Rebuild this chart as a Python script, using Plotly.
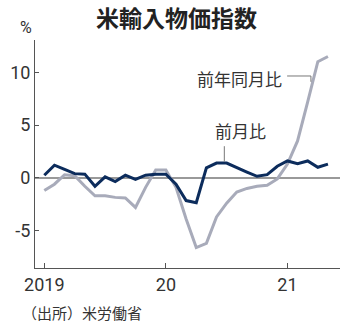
import pandas as pd
import plotly.graph_objects as go

# Monthly observations, Jan 2019 - May 2021
months = pd.period_range("2019-01", "2021-05", freq="M")

# Month-over-month change (%)
mom = [0.25, 1.2, 0.8, 0.4, 0.35, -0.8, 0.1, -0.35, 0.25, -0.15, 0.25, 0.35,
       0.35, -0.6, -2.15, -2.35, 0.95, 1.4, 1.4, 0.95, 0.55, 0.15, 0.3, 1.1,
       1.6, 1.35, 1.6, 1.0, 1.3]

# Year-over-year change (%)
yoy = [-1.2, -0.6, 0.3, 0.2, -0.8, -1.7, -1.7, -1.85, -1.9, -2.8, -0.9, 0.75,
       0.75, -0.9, -3.9, -6.6, -6.2, -3.7, -2.4, -1.35, -1.0, -0.8, -0.7, -0.1,
       1.3, 3.5, 7.2, 11.0, 11.5]

y_ticks = [10, 5, 0, -5]
y_tick_text = ["10", "5", "0", "-5"]
x_tick_text = ["2019", "20", "21"]

x = list(range(len(months)))
x_ticks = [i for i, m in enumerate(months) if m.month == 1]

NAVY = "#0c2c5c"
GREY = "#a8abba"
TEXT = "#333333"
CJK = "Noto Sans CJK JP"
DIGITS = "Liberation Sans Narrow, Roboto, Noto Sans CJK JP"

fig = go.Figure()
fig.add_trace(go.Scatter(x=x, y=yoy, mode="lines", name="前年同月比",
                         line=dict(color=GREY, width=3)))
fig.add_trace(go.Scatter(x=x, y=mom, mode="lines", name="前月比",
                         line=dict(color=NAVY, width=3)))

# Leader lines for the series labels
leader = dict(color="#777777", width=1)
fig.add_shape(type="line", x0=23.97, x1=26.32, y0=9.65, y1=9.65, line=leader)
fig.add_shape(type="line", x0=26.32, x1=26.32, y0=9.65, y1=9.1, line=leader)
fig.add_shape(type="line", x0=17.77, x1=17.77, y0=3.0, y1=1.55, line=leader)

annotations = [
    dict(x=19.3, y=9.46, xref="x", yref="y", text="前年同月比", showarrow=False,
         xanchor="center", yanchor="middle",
         font=dict(family=CJK, size=17, color=TEXT)),
    dict(x=19.4, y=4.5, xref="x", yref="y", text="前月比", showarrow=False,
         xanchor="center", yanchor="middle",
         font=dict(family=CJK, size=17, color=TEXT)),
    dict(x=0.464, y=1.099, xref="paper", yref="paper", text="<b>米輸入物価指数</b>",
         xanchor="center", yanchor="middle", showarrow=False,
         font=dict(family=CJK, size=23, color="#222222")),
    dict(x=-0.029, y=1.057, xref="paper", yref="paper", text="%",
         xanchor="center", yanchor="middle", showarrow=False,
         font=dict(family=DIGITS, size=16, color=TEXT)),
    dict(x=-0.05, y=-0.197, xref="paper", yref="paper", text="（出所）米労働省",
         xanchor="left", yanchor="middle", showarrow=False,
         font=dict(family=CJK, size=15, color=TEXT)),
]

fig.update_layout(
    width=350, height=329,
    margin=dict(l=32, r=10, t=40, b=61),
    paper_bgcolor="white", plot_bgcolor="white",
    showlegend=False,
    annotations=annotations,
    xaxis=dict(range=[-0.92, 29.19], tickvals=x_ticks, ticktext=x_tick_text,
               showgrid=False, zeroline=False, showline=True, linecolor="#555555",
               linewidth=1, ticks="inside", ticklen=5, tickcolor="#555555",
               tickfont=dict(family=DIGITS, size=18, color=TEXT)),
    yaxis=dict(range=[-8.54, 13.06], tickvals=y_ticks, ticktext=y_tick_text,
               showgrid=False, zeroline=True, zerolinecolor="#999999",
               zerolinewidth=1.5, showline=True, linecolor="#555555",
               linewidth=1, ticks="inside", ticklen=4, tickcolor="#555555",
               tickfont=dict(family=DIGITS, size=18, color=TEXT)),
)

fig.write_html("out.html")
